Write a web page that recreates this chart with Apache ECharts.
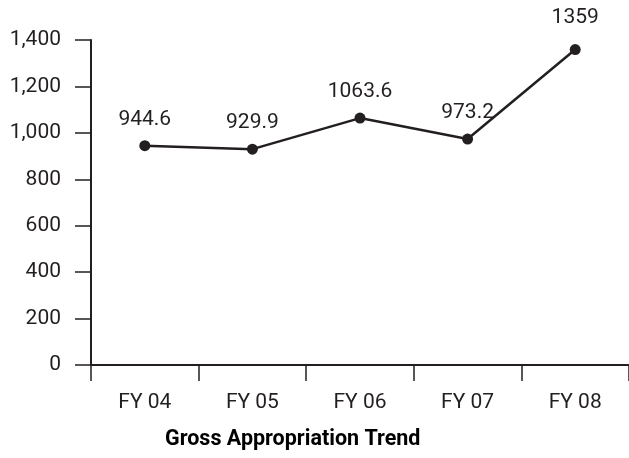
<!DOCTYPE html>
<html>
<head>
<meta charset="utf-8">
<script src="https://cdn.jsdelivr.net/npm/echarts@6/dist/echarts.min.js"></script>
<style>
  html, body { margin: 0; padding: 0; background: #fff; }
  #chart { width: 629px; height: 458px; }
</style>
</head>
<body>
<div id="chart"></div>
<script>
const categories = ['FY 04', 'FY 05', 'FY 06', 'FY 07', 'FY 08'];
const grossAppropriation = [944.6, 929.9, 1063.6, 973.2, 1359];
const chartTitle = 'Gross Appropriation Trend';

const FONT = 'Roboto, "Liberation Sans", sans-serif';
const INK = '#231f20';

const chart = echarts.init(document.getElementById('chart'), null, { renderer: 'canvas' });

// the last point's label sits a little higher than the rest
const lineData = grossAppropriation.map((v, i) =>
  i === grossAppropriation.length - 1 ? { value: v, label: { distance: 16 } } : v
);

chart.setOption({
  animation: false,
  backgroundColor: '#ffffff',
  title: {
    text: chartTitle,
    left: 165,
    top: 429,
    padding: 0,
    textStyle: { fontFamily: FONT, fontSize: 21.5, fontWeight: 'bold', color: '#000' }
  },
  grid: { left: 91, right: 0, top: 40, bottom: 93, containLabel: false },
  xAxis: {
    type: 'category',
    data: categories,
    boundaryGap: true,
    axisLine: { show: true, lineStyle: { color: INK, width: 2 } },
    axisTick: { show: true, length: 16, alignWithLabel: false, lineStyle: { color: INK, width: 1.5 } },
    axisLabel: { margin: 27, fontFamily: FONT, fontSize: 21, color: INK },
    splitLine: { show: false }
  },
  yAxis: {
    type: 'value',
    min: 0,
    max: 1400,
    interval: 200,
    axisLine: { show: true, lineStyle: { color: INK, width: 2 } },
    axisTick: { show: true, length: 16, lineStyle: { color: INK, width: 1.5 } },
    axisLabel: {
      margin: 30,
      fontFamily: FONT,
      fontSize: 21,
      color: INK,
      formatter: v => v.toLocaleString('en-US')
    },
    splitLine: { show: false }
  },
  series: [{
    type: 'line',
    data: lineData,
    symbol: 'circle',
    symbolSize: 11,
    lineStyle: { color: INK, width: 2.5 },
    itemStyle: { color: INK },
    label: {
      show: true,
      position: 'top',
      distance: 10,
      fontFamily: FONT,
      fontSize: 21,
      color: INK,
      formatter: p => String(p.value)
    }
  }]
});
</script>
</body>
</html>
